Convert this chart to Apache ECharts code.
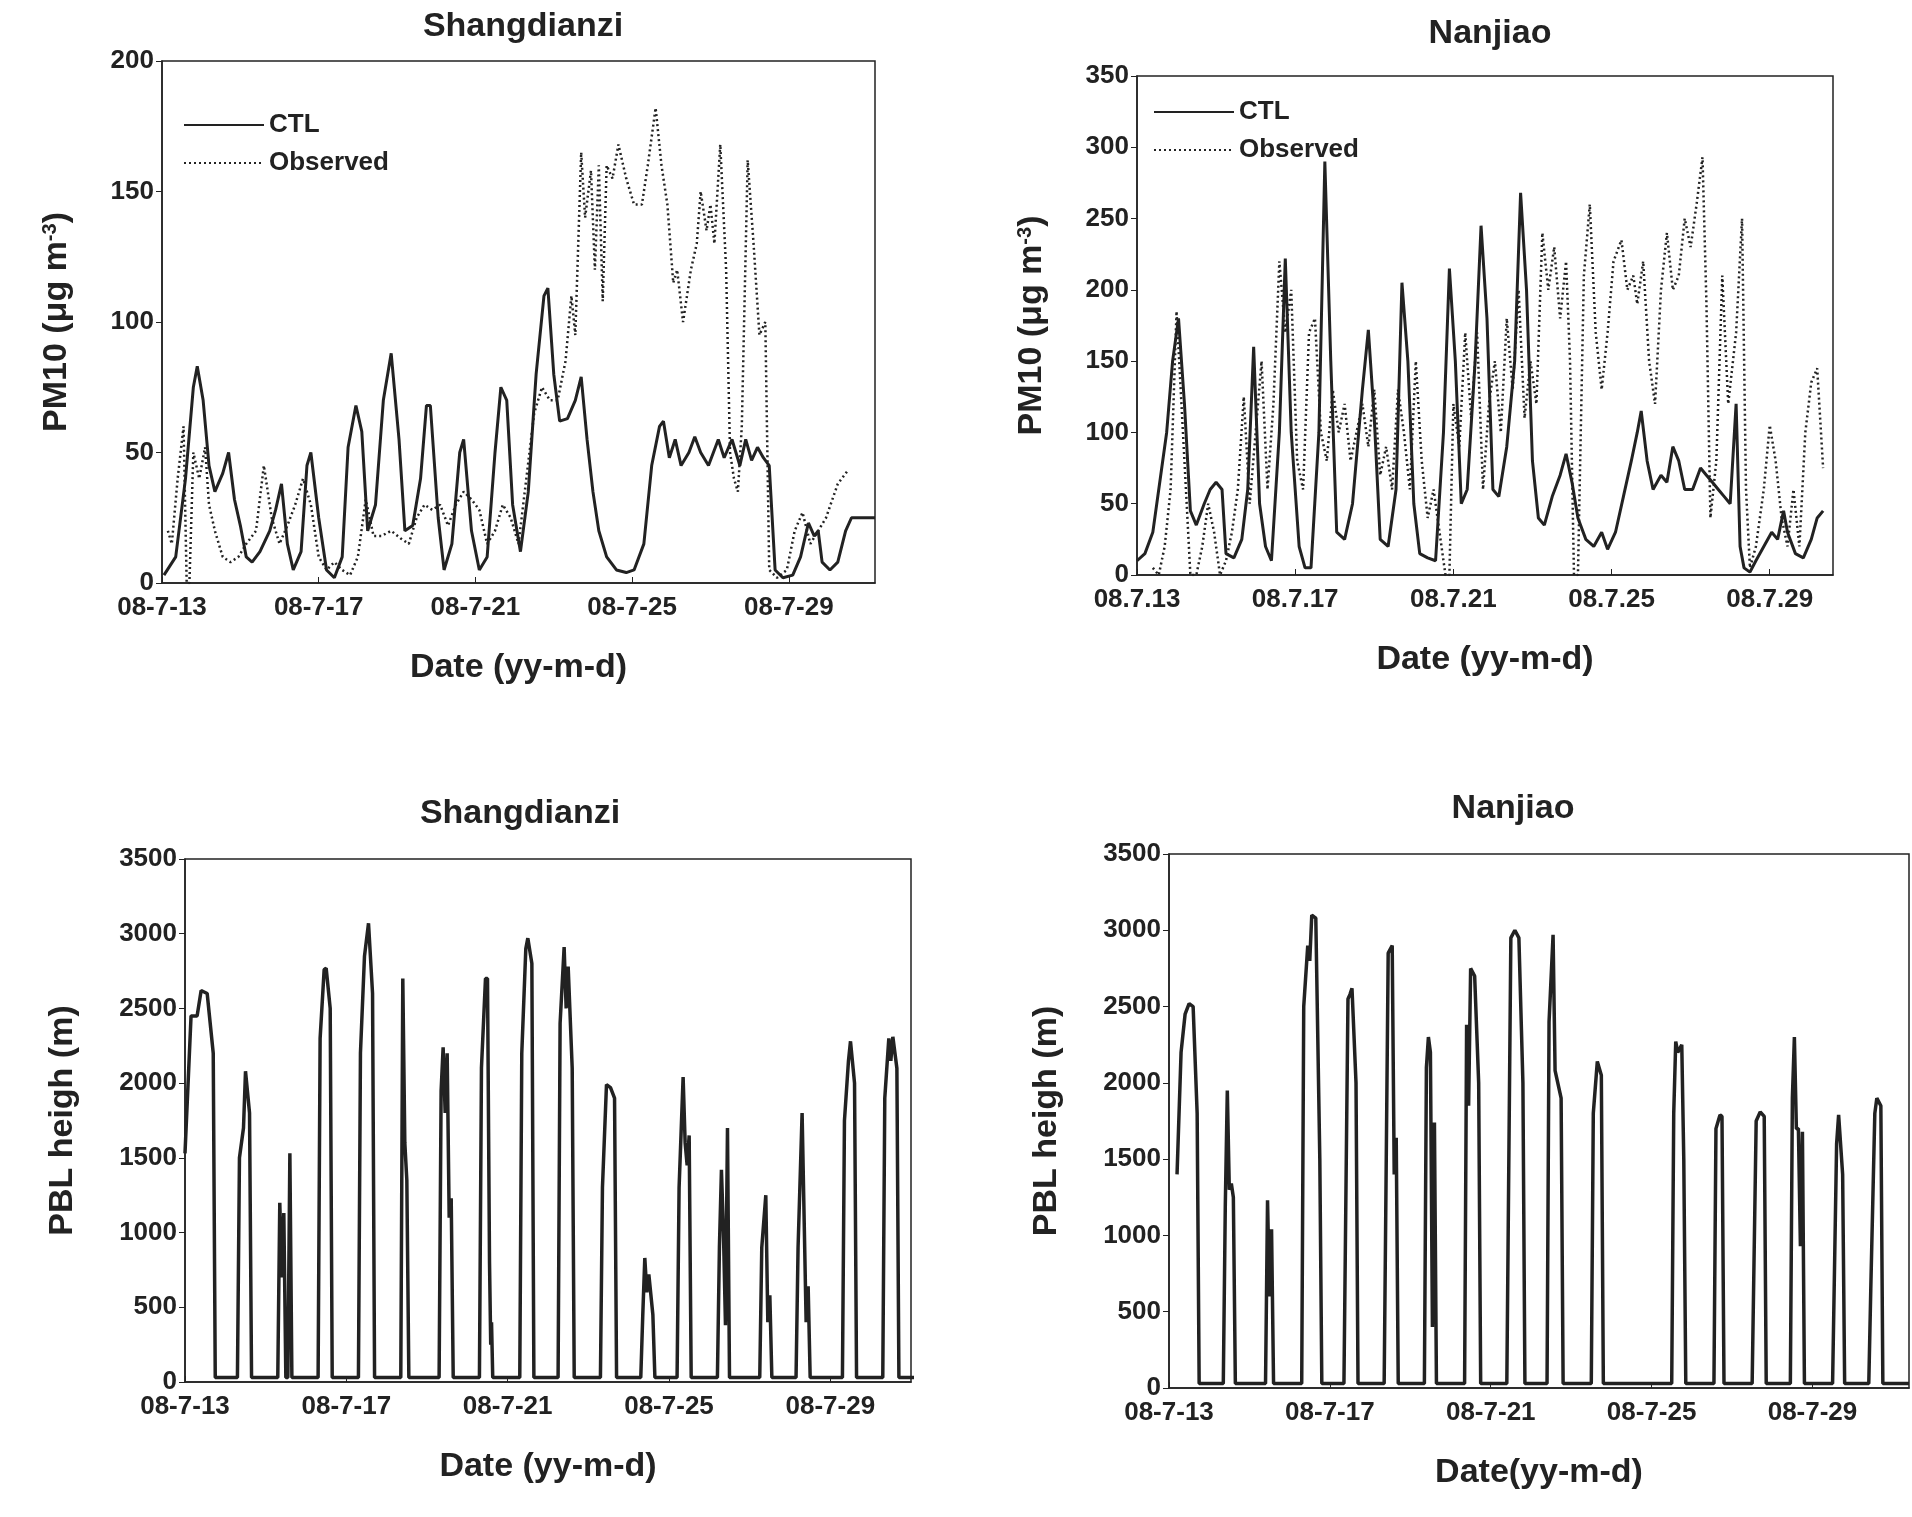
<!DOCTYPE html>
<html><head><meta charset="utf-8">
<script src="https://cdn.jsdelivr.net/npm/echarts@6/dist/echarts.min.js"></script>
<style>html,body{margin:0;background:#fff}#c{width:1912px;height:1517px}</style>
</head><body><div id="c"></div>
<script>
const dayTicks=[13,17,21,25,29];
const labelsDash=['08-7-13','08-7-17','08-7-21','08-7-25','08-7-29'];
const labelsDot=['08.7.13','08.7.17','08.7.21','08.7.25','08.7.29'];

const sdCTL=[[13.05,3],[13.35,10],[13.6,40],[13.8,75],[13.9,83],[14.05,70],[14.2,45],[14.35,35],[14.55,42],[14.7,50],[14.85,32],[15.0,22],[15.15,10],[15.3,8],[15.5,12],[15.75,20],[15.9,28],[16.05,38],[16.2,15],[16.35,5],[16.55,12],[16.7,45],[16.8,50],[17.0,25],[17.2,5],[17.4,2],[17.6,10],[17.75,52],[17.95,68],[18.1,58],[18.25,20],[18.45,30],[18.65,70],[18.85,88],[19.05,55],[19.2,20],[19.4,22],[19.6,40],[19.75,68],[19.85,68],[20.05,25],[20.2,5],[20.4,15],[20.6,50],[20.7,55],[20.9,20],[21.1,5],[21.3,10],[21.5,50],[21.65,75],[21.8,70],[21.95,30],[22.15,12],[22.35,35],[22.55,80],[22.75,110],[22.85,113],[23.0,80],[23.15,62],[23.35,63],[23.55,70],[23.7,79],[23.85,55],[24.0,35],[24.15,20],[24.35,10],[24.6,5],[24.85,4],[25.05,5],[25.3,15],[25.5,45],[25.7,60],[25.8,62],[25.95,48],[26.1,55],[26.25,45],[26.45,50],[26.6,56],[26.75,50],[26.95,45],[27.2,55],[27.35,48],[27.55,55],[27.75,45],[27.9,55],[28.05,47],[28.2,52],[28.35,48],[28.5,45],[28.65,5],[28.85,2],[29.1,3],[29.3,10],[29.5,23],[29.65,18],[29.75,20],[29.85,8],[30.05,5],[30.25,8],[30.45,20],[30.6,25],[31.2,25]];
const sdObs=[[13.15,20],[13.25,15],[13.4,40],[13.55,60],[13.63,0],[13.7,0],[13.8,50],[13.95,40],[14.1,52],[14.2,30],[14.35,20],[14.55,10],[14.75,8],[14.95,10],[15.15,15],[15.4,20],[15.6,45],[15.8,25],[16.0,15],[16.2,22],[16.4,30],[16.6,40],[16.8,30],[17.0,10],[17.2,5],[17.4,8],[17.6,5],[17.8,3],[18.0,10],[18.2,32],[18.4,18],[18.6,18],[18.85,20],[19.1,17],[19.3,15],[19.5,25],[19.7,30],[19.9,28],[20.1,30],[20.3,22],[20.5,30],[20.7,35],[20.9,32],[21.1,28],[21.3,15],[21.5,20],[21.7,30],[21.9,25],[22.1,15],[22.3,40],[22.5,65],[22.7,75],[22.9,70],[23.1,70],[23.3,85],[23.45,110],[23.55,95],[23.7,165],[23.8,140],[23.95,158],[24.05,120],[24.15,160],[24.25,108],[24.35,160],[24.5,155],[24.65,168],[24.85,155],[25.05,145],[25.25,145],[25.4,160],[25.6,182],[25.75,160],[25.9,145],[26.05,115],[26.15,120],[26.3,100],[26.5,120],[26.65,130],[26.75,150],[26.9,135],[27.0,145],[27.1,130],[27.25,168],[27.4,120],[27.5,50],[27.6,40],[27.7,35],[27.8,60],[27.95,162],[28.1,130],[28.25,95],[28.4,100],[28.5,5],[28.7,2],[28.95,5],[29.15,20],[29.35,27],[29.55,15],[29.75,20],[29.95,25],[30.25,38],[30.5,43]];

const njCTL=[[13.0,10],[13.2,15],[13.4,30],[13.6,70],[13.75,100],[13.9,150],[14.05,180],[14.2,120],[14.35,45],[14.5,35],[14.7,50],[14.85,60],[15.0,65],[15.15,60],[15.25,15],[15.45,12],[15.65,25],[15.8,60],[15.95,160],[16.1,50],[16.25,20],[16.4,10],[16.6,100],[16.75,222],[16.9,100],[17.1,20],[17.25,5],[17.4,5],[17.6,100],[17.75,290],[17.9,150],[18.05,30],[18.25,25],[18.45,50],[18.7,130],[18.85,172],[19.0,110],[19.15,25],[19.35,20],[19.55,60],[19.7,205],[19.85,150],[20.0,50],[20.15,15],[20.35,12],[20.55,10],[20.75,100],[20.9,215],[21.05,150],[21.2,50],[21.35,60],[21.55,150],[21.7,245],[21.85,180],[22.0,60],[22.15,55],[22.35,90],[22.55,150],[22.7,268],[22.85,200],[23.0,80],[23.15,40],[23.3,35],[23.5,55],[23.7,70],[23.85,85],[24.0,65],[24.15,40],[24.35,25],[24.55,20],[24.75,30],[24.9,18],[25.1,30],[25.3,55],[25.5,80],[25.65,100],[25.75,115],[25.9,80],[26.05,60],[26.25,70],[26.4,65],[26.55,90],[26.7,80],[26.85,60],[27.05,60],[27.25,75],[27.4,70],[27.55,65],[27.7,60],[27.85,55],[28.0,50],[28.15,120],[28.25,20],[28.35,5],[28.5,2],[28.65,10],[28.85,20],[29.05,30],[29.2,25],[29.35,45],[29.45,30],[29.65,15],[29.85,12],[30.05,25],[30.2,40],[30.35,45]];
const njObs=[[13.4,5],[13.55,0],[13.7,20],[13.85,60],[14.0,185],[14.2,80],[14.35,0],[14.5,0],[14.65,20],[14.8,50],[14.95,30],[15.1,0],[15.25,10],[15.4,30],[15.55,60],[15.7,125],[15.85,50],[16.0,100],[16.15,150],[16.3,60],[16.45,120],[16.6,220],[16.75,170],[16.9,200],[17.05,80],[17.2,60],[17.35,170],[17.5,180],[17.65,100],[17.8,80],[17.95,130],[18.1,100],[18.25,120],[18.4,80],[18.55,100],[18.7,120],[18.85,90],[19.0,130],[19.15,70],[19.3,90],[19.45,60],[19.6,130],[19.75,100],[19.9,60],[20.05,150],[20.2,80],[20.35,40],[20.5,60],[20.65,30],[20.8,0],[20.9,0],[21.0,120],[21.15,90],[21.3,170],[21.45,110],[21.6,170],[21.75,60],[21.9,120],[22.05,150],[22.2,100],[22.35,180],[22.5,130],[22.65,200],[22.8,110],[22.95,150],[23.1,120],[23.25,240],[23.4,200],[23.55,230],[23.7,180],[23.85,220],[23.95,150],[24.05,0],[24.15,0],[24.3,210],[24.45,260],[24.6,170],[24.75,130],[24.9,170],[25.05,220],[25.25,235],[25.4,200],[25.55,210],[25.65,190],[25.8,220],[25.95,150],[26.1,120],[26.25,200],[26.4,240],[26.55,200],[26.7,210],[26.85,250],[27.0,230],[27.15,260],[27.3,293],[27.4,190],[27.5,40],[27.65,80],[27.8,210],[27.95,120],[28.15,170],[28.3,250],[28.4,60],[28.5,5],[28.65,20],[28.85,60],[29.0,105],[29.15,80],[29.3,40],[29.45,20],[29.6,60],[29.75,20],[29.9,100],[30.05,135],[30.2,145],[30.35,75]];

const sdPBL=[[13,1530],[13.15,2450],[13.3,2450],[13.4,2620],[13.55,2600],[13.7,2200],[13.75,30],[14.3,30],[14.35,1500],[14.45,1700],[14.5,2080],[14.6,1800],[14.65,30],[15.3,30],[15.35,1200],[15.4,700],[15.45,1130],[15.5,30],[15.55,30],[15.6,1530],[15.65,30],[16.3,30],[16.35,2300],[16.45,2760],[16.5,2770],[16.6,2500],[16.65,30],[17.3,30],[17.35,2200],[17.45,2850],[17.55,3070],[17.65,2600],[17.7,30],[18.35,30],[18.4,2700],[18.45,1600],[18.5,1350],[18.55,30],[19.3,30],[19.35,1950],[19.4,2240],[19.45,1800],[19.5,2200],[19.55,1100],[19.6,1230],[19.65,30],[20.3,30],[20.35,2100],[20.45,2700],[20.5,2700],[20.55,800],[20.58,250],[20.6,400],[20.63,30],[21.3,30],[21.35,2200],[21.45,2900],[21.5,2970],[21.6,2800],[21.65,30],[22.25,30],[22.3,2400],[22.4,2910],[22.45,2500],[22.5,2780],[22.6,2100],[22.65,30],[23.3,30],[23.35,1300],[23.45,1990],[23.55,1970],[23.65,1900],[23.7,30],[24.3,30],[24.35,450],[24.4,830],[24.45,600],[24.5,720],[24.6,450],[24.65,30],[25.2,30],[25.25,1300],[25.35,2040],[25.4,1600],[25.45,1450],[25.5,1650],[25.55,30],[26.2,30],[26.25,900],[26.3,1420],[26.35,1000],[26.4,380],[26.45,1700],[26.5,30],[27.25,30],[27.3,900],[27.4,1250],[27.45,400],[27.5,580],[27.55,30],[28.15,30],[28.2,900],[28.3,1800],[28.4,400],[28.45,640],[28.5,30],[29.3,30],[29.35,1750],[29.45,2150],[29.5,2280],[29.6,2000],[29.65,30],[30.3,30],[30.35,1900],[30.45,2300],[30.5,2150],[30.55,2310],[30.65,2100],[30.7,30],[31.2,30]];
const njPBL=[[13.2,1400],[13.3,2200],[13.4,2450],[13.5,2520],[13.6,2500],[13.7,1800],[13.75,30],[14.35,30],[14.4,1200],[14.45,1950],[14.5,1300],[14.55,1340],[14.6,1250],[14.65,30],[15.4,30],[15.45,1230],[15.5,600],[15.55,1040],[15.6,30],[16.3,30],[16.35,2500],[16.45,2900],[16.5,2800],[16.55,3100],[16.65,3080],[16.75,1500],[16.8,30],[17.35,30],[17.45,2550],[17.5,2580],[17.55,2620],[17.65,2000],[17.7,30],[18.35,30],[18.45,2850],[18.55,2900],[18.6,1400],[18.65,1640],[18.7,30],[19.35,30],[19.4,2100],[19.45,2300],[19.5,2200],[19.55,400],[19.6,1740],[19.65,30],[20.35,30],[20.4,2380],[20.45,1850],[20.5,2750],[20.6,2700],[20.7,2000],[20.75,30],[21.4,30],[21.5,2950],[21.6,3000],[21.7,2950],[21.8,2000],[21.85,30],[22.4,30],[22.45,2400],[22.55,2970],[22.6,2080],[22.75,1900],[22.8,30],[23.5,30],[23.55,1800],[23.65,2140],[23.75,2050],[23.8,30],[25.5,30],[25.55,1800],[25.6,2270],[25.65,2200],[25.75,2250],[25.8,1500],[25.85,30],[26.55,30],[26.6,1700],[26.7,1790],[26.75,1780],[26.8,30],[27.5,30],[27.6,1750],[27.7,1810],[27.8,1780],[27.85,30],[28.45,30],[28.5,1900],[28.55,2300],[28.6,1700],[28.65,1700],[28.7,930],[28.75,1680],[28.8,30],[29.5,30],[29.6,1600],[29.65,1790],[29.75,1400],[29.8,30],[30.4,30],[30.45,650],[30.55,1800],[30.6,1900],[30.7,1850],[30.75,30],[31.4,30]];

const font='Liberation Sans';
const grids=[
 {left:162,top:61,width:713,height:522},
 {left:1137,top:76,width:696,height:499},
 {left:185,top:859,width:726,height:523},
 {left:1169,top:854,width:740,height:534}];
function xAx(i,min,max,labels,name){return {type:'value',gridIndex:i,min:min,max:max,name:name,nameLocation:'middle',nameGap:68,
 nameTextStyle:{fontFamily:font,fontWeight:'bold',fontSize:34,color:'#222'},
 axisLine:{onZero:false,lineStyle:{color:'#222',width:1.5}},splitLine:{show:false},
 axisTick:{customValues:dayTicks,inside:true,length:6,lineStyle:{color:'#222'}},
 axisLabel:{customValues:dayTicks,formatter:v=>labels[dayTicks.indexOf(v)]||'',fontFamily:font,fontWeight:'bold',fontSize:26,color:'#222',margin:12}};}
function yAx(i,max,interval,name,gap){return {type:'value',gridIndex:i,min:0,max:max,interval:interval,name:name,nameLocation:'middle',nameGap:gap,
 nameTextStyle:{fontFamily:font,fontWeight:'bold',fontSize:34,color:'#222',rich:{sup:{fontSize:20,fontWeight:'bold',verticalAlign:'top',padding:[0,0,14,0],fontFamily:font}}},
 axisLine:{show:true,lineStyle:{color:'#222',width:1.5}},splitLine:{show:false},
 axisTick:{inside:false,length:6,lineStyle:{color:'#222'}},
 axisLabel:{formatter:v=>String(v),fontFamily:font,fontWeight:'bold',fontSize:26,color:'#222'}};}
function ln(name,i,data,dash,w){return {name:name,type:'line',xAxisIndex:i,yAxisIndex:i,data:data,showSymbol:false,symbol:'none',
 lineStyle:{color:'#222',width:w,type:dash?[2,3]:'solid'},itemStyle:{color:'#222'},animation:false};}
const t=(txt,x,y)=>({text:txt,left:x,top:y,textAlign:'center',textStyle:{fontFamily:font,fontWeight:'bold',fontSize:34,color:'#222'}});
const lg={orient:'vertical',itemGap:12,itemWidth:80,itemHeight:14,itemStyle:{opacity:0},textStyle:{fontFamily:font,fontWeight:'bold',fontSize:26,color:'#222'}};
const opt={
 title:[t('Shangdianzi',518,5),t('Nanjiao',1485,12),t('Shangdianzi',515,792),t('Nanjiao',1508,787)],
 grid:grids.map(g=>Object.assign({show:true,borderColor:'#222',borderWidth:1.5},g)),
 legend:[Object.assign({left:178,top:107,data:['CTL','Observed']},lg),
  Object.assign({left:1148,top:94,data:['CTL ','Observed ']},lg)],
 xAxis:[xAx(0,13,31.2,labelsDash,'Date (yy-m-d)'),xAx(1,13,30.6,labelsDot,'Date (yy-m-d)'),
  xAx(2,13,31.0,labelsDash,'Date (yy-m-d)'),xAx(3,13,31.4,labelsDash,'Date(yy-m-d)')],
 yAxis:[yAx(0,200,50,'PM10 (μg m{sup|-3})',88),yAx(1,350,50,'PM10 (μg m{sup|-3})',88),
  yAx(2,3500,500,'PBL heigh (m)',105),yAx(3,3500,500,'PBL heigh (m)',105)],
 series:[ln('CTL',0,sdCTL,false,3),ln('Observed',0,sdObs,true,2.5),ln('CTL ',1,njCTL,false,3),ln('Observed ',1,njObs,true,2.5),
  ln('pbl1',2,sdPBL,false,3.5),ln('pbl2',3,njPBL,false,3.5)]
};
echarts.init(document.getElementById('c')).setOption(opt);
</script></body></html>
